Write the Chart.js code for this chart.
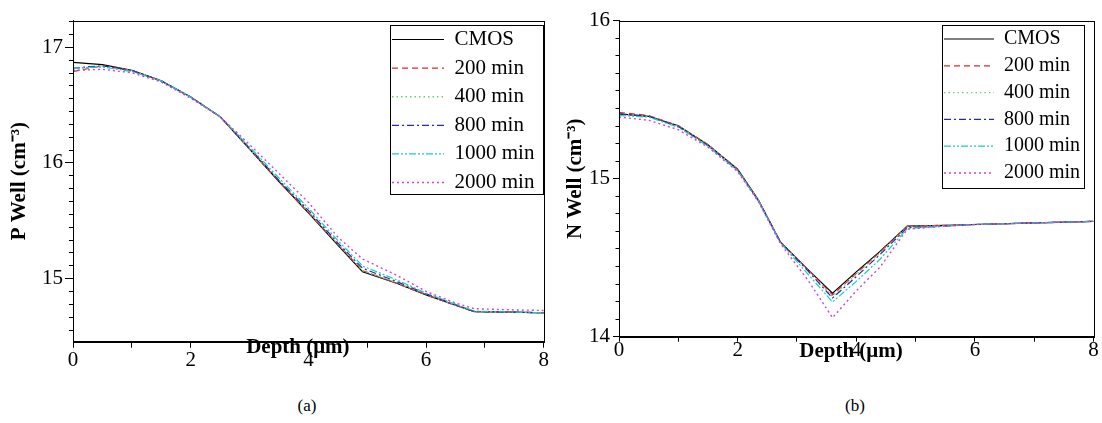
<!DOCTYPE html>
<html>
<head>
<meta charset="utf-8">
<script src="https://cdn.jsdelivr.net/npm/chart.js@4.4.1/dist/chart.umd.min.js"></script>
<style>
  body { margin: 0; background: #fff; width: 1102px; height: 423px; position: relative; overflow: hidden;
         font-family: "Liberation Serif", "Times New Roman", serif; }
  .panel { position: absolute; top: 0; width: 551px; height: 385px; }
  #panelA { left: 0; }
  #panelB { left: 551px; }
  .caption { position: absolute; top: 396px; width: 40px; text-align: center; font-size: 17px; color: #000; }
</style>
</head>
<body>
<div class="panel" id="panelA"><canvas id="chartA"></canvas></div>
<div class="panel" id="panelB"><canvas id="chartB"></canvas></div>
<div class="caption" style="left:287px">(a)</div>
<div class="caption" style="left:835px">(b)</div>
<script>
// series names (legend order)
const seriesNames = ["CMOS", "200 min", "400 min", "800 min", "1000 min", "2000 min"];

// (a) P well profile
const depthP = [0, 0.5, 1, 1.5, 2, 2.5, 3, 3.5, 4, 4.5, 4.92, 5.5, 6, 6.5, 6.82, 7.5, 8];
const pCmos  = [16.87, 16.85, 16.80, 16.71, 16.57, 16.40, 16.12, 15.84, 15.57, 15.29, 15.06, 14.96, 14.86, 14.77, 14.715, 14.71, 14.705];
const p200   = [16.79, 16.84, 16.80, 16.71, 16.57, 16.40, 16.12, 15.84, 15.57, 15.30, 15.07, 14.96, 14.86, 14.77, 14.715, 14.71, 14.705];
const p400   = [16.81, 16.84, 16.80, 16.71, 16.57, 16.40, 16.12, 15.85, 15.58, 15.30, 15.07, 14.965, 14.865, 14.77, 14.715, 14.71, 14.705];
const p800   = [16.82, 16.84, 16.80, 16.71, 16.57, 16.40, 16.13, 15.85, 15.59, 15.31, 15.09, 14.975, 14.87, 14.775, 14.715, 14.71, 14.705];
const p1000  = [16.82, 16.83, 16.79, 16.71, 16.57, 16.40, 16.14, 15.87, 15.61, 15.33, 15.11, 14.99, 14.875, 14.78, 14.72, 14.71, 14.705];
const p2000  = [16.80, 16.81, 16.78, 16.70, 16.56, 16.40, 16.16, 15.91, 15.66, 15.36, 15.17, 15.03, 14.89, 14.79, 14.74, 14.73, 14.725];

// (b) N well profile
const depthN = [0, 0.5, 1, 1.5, 2, 2.35, 2.72, 3.2, 3.6, 4.0, 4.4, 4.86, 5.5, 6, 7, 8];
const nCmos  = [15.41, 15.395, 15.335, 15.215, 15.06, 14.865, 14.60, 14.42, 14.275, 14.41, 14.54, 14.70, 14.705, 14.71, 14.72, 14.73];
const n200   = [15.42, 15.40, 15.335, 15.215, 15.06, 14.865, 14.60, 14.42, 14.265, 14.40, 14.535, 14.70, 14.705, 14.71, 14.72, 14.73];
const n400   = [15.41, 15.395, 15.335, 15.215, 15.06, 14.865, 14.60, 14.415, 14.255, 14.395, 14.53, 14.695, 14.705, 14.71, 14.72, 14.73];
const n800   = [15.41, 15.395, 15.33, 15.21, 15.055, 14.86, 14.60, 14.41, 14.245, 14.38, 14.52, 14.69, 14.70, 14.71, 14.72, 14.73];
const n1000  = [15.40, 15.39, 15.325, 15.205, 15.05, 14.86, 14.595, 14.39, 14.22, 14.35, 14.49, 14.685, 14.70, 14.71, 14.72, 14.73];
const n2000  = [15.39, 15.37, 15.31, 15.20, 15.045, 14.855, 14.59, 14.35, 14.12, 14.29, 14.44, 14.68, 14.70, 14.71, 14.72, 14.73];

// line look per series
const lineStyles = [
  { color: "#000000", dash: [], width: 1.2 },
  { color: "#e0282c", dash: [6, 4], width: 1.2 },
  { color: "#70cc70", dash: [1.5, 3], width: 1.4 },
  { color: "#2a2aa8", dash: [7, 3, 2, 3], width: 1.2 },
  { color: "#18cccc", dash: [7, 2, 2, 2, 2, 2], width: 1.2 },
  { color: "#d640d6", dash: [2, 3], width: 1.4 }
];

const SERIF = "'Liberation Serif', 'Times New Roman', serif";
Chart.defaults.font.family = SERIF;
Chart.defaults.color = "#000";

const isInt = v => Math.abs(v - Math.round(v)) < 1e-6;

const framePlugin = {
  id: "frame",
  afterLayout(chart, args, opts) {
    const lg = chart.legend;
    lg.left = opts.legendLeft;
    lg.right = lg.left + lg.width;
    lg.top = opts.legendTop;
    lg.bottom = lg.top + 400;
  },
  afterDraw(chart, args, opts) {
    const { ctx, chartArea: a } = chart;
    ctx.save();
    ctx.strokeStyle = "#000";
    ctx.lineWidth = 1;
    ctx.strokeRect(Math.round(a.left) + 0.5, Math.round(a.top) + 0.5,
      Math.round(a.right - a.left), Math.round(a.bottom - a.top));
    const b = opts.box;
    ctx.strokeRect(b[0] + 0.5, b[1] + 0.5, b[2] - b[0], b[3] - b[1]);
    ctx.restore();
  }
};

function makeChart(id, depth, series, cfg) {
  const datasets = series.map((vals, i) => ({
    label: seriesNames[i],
    data: depth.map((d, k) => ({ x: d, y: vals[k] })),
    borderColor: lineStyles[i].color,
    backgroundColor: lineStyles[i].color,
    borderDash: lineStyles[i].dash,
    borderWidth: lineStyles[i].width,
    pointRadius: 0,
    tension: 0,
    fill: false
  })).reverse();

  return new Chart(document.getElementById(id), {
    type: "line",
    data: { datasets },
    plugins: [framePlugin],
    options: {
      responsive: true,
      maintainAspectRatio: false,
      animation: false,
      layout: { padding: cfg.pad },
      plugins: {
        tooltip: { enabled: false },
        legend: {
          position: "chartArea",
          align: "start",
          reverse: true,
          labels: {
            usePointStyle: true,
            pointStyle: "line",
            pointStyleWidth: cfg.legendLine,
            padding: cfg.legendPad,
            color: "#000",
            font: { size: cfg.legendFont, family: SERIF },
            // line samples take the dataset's dash, not the point style
            generateLabels: chart => chart.data.datasets.map((ds, i) => ({
              text: ds.label,
              datasetIndex: i,
              hidden: false,
              fontColor: "#000",
              fillStyle: ds.borderColor,
              strokeStyle: ds.borderColor,
              lineWidth: ds.borderWidth,
              lineDash: ds.borderDash,
              pointStyle: "line"
            }))
          }
        },
        frame: { legendLeft: cfg.legendLeft, legendTop: cfg.legendTop, box: cfg.box }
      },
      scales: {
        x: {
          type: "linear",
          min: 0,
          max: 8,
          afterFit: s => { s.height = 40; },
          ticks: {
            stepSize: 1,
            autoSkip: false,
            maxRotation: 0,
            padding: cfg.xTickPad,
            font: { size: 21, lineHeight: 1 },
            color: "#000",
            callback: v => (v % 2 === 0 ? String(v) : "")
          },
          grid: { drawOnChartArea: false, color: "#000", tickLength: cfg.xTickLen, tickWidth: 1 },
          border: { display: true, color: "#000", width: 1 },
          title: {
            display: true,
            text: cfg.xTitle,
            color: "#000",
            font: { size: 21, weight: "bold", lineHeight: 1 },
            padding: { top: 0, bottom: cfg.xTitlePad }
          }
        },
        y: {
          type: "linear",
          min: cfg.yMin,
          max: cfg.yMax,
          afterFit: s => { s.width = cfg.yWidth; },
          afterBuildTicks: s => {
            const t = [];
            for (let k = Math.ceil(s.min * 9 - 1e-6); k <= Math.floor(s.max * 9 + 1e-6); k++) t.push({ value: k / 9 });
            s.ticks = t;
          },
          ticks: {
            autoSkip: false,
            padding: cfg.yTickPad,
            font: { size: 21, lineHeight: 1 },
            color: "#000",
            callback: v => (isInt(v) ? String(Math.round(v)) : "")
          },
          grid: {
            drawOnChartArea: false,
            color: "#000",
            tickLength: cfg.yTickLen,
            tickWidth: 1,
            tickBorderDash: c => (c.tick && !isInt(c.tick.value) ? cfg.yMinorDash : [])
          },
          border: { display: true, color: "#000", width: 1 },
          title: {
            display: true,
            text: cfg.yTitle,
            color: "#000",
            font: { size: 21, weight: "bold", lineHeight: 1 },
            padding: { top: cfg.yTitlePad, bottom: 0 }
          }
        }
      }
    }
  });
}

makeChart("chartA", depthP, [pCmos, p200, p400, p800, p1000, p2000], {
  yMin: 14.455, yMax: 17.23, yTitle: "P Well (cm\u207b\u00b3)",
  xTitle: "Depth (\u03bcm)\u00a0\u00a0\u00a0\u00a0",
  pad: { left: 0, right: 5.5, top: 20.7, bottom: 3.3 },
  yWidth: 73, yTickLen: 8, yTickPad: 2, yMinorDash: [0, 4, 4, 100], yTitlePad: 9.5,
  xTickLen: 6, xTickPad: 2, xTitlePad: 23.2,
  legendFont: 21, legendLine: 52, legendPad: 7.6,
  legendLeft: 384.4, legendTop: 21.4, box: [390, 25, 543, 194]
});

makeChart("chartB", depthN, [nCmos, n200, n400, n800, n1000, n2000], {
  yMin: 14, yMax: 16, yTitle: "N Well (cm\u207b\u00b3)",
  xTitle: "Depth (\u03bcm)\u00a0\u00a0",
  pad: { left: 0, right: 8.5, top: 20.7, bottom: 8.3 },
  yWidth: 68, yTickLen: 6, yTickPad: 3, yMinorDash: [0, 2.5, 3.5, 100], yTitlePad: 14.5,
  xTickLen: 5, xTickPad: -2, xTitlePad: 14.2,
  legendFont: 20, legendLine: 50, legendPad: 6.8,
  legendLeft: 386.2, legendTop: 22.2, box: [391, 25, 533, 188]
});
</script>
</body>
</html>
